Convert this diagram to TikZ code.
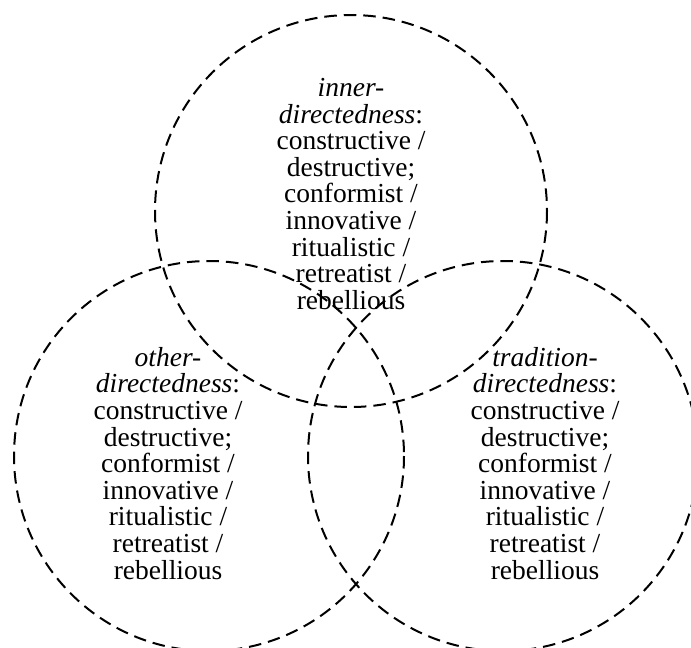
\documentclass[tikz,border=0pt]{standalone}
\usepackage{fontspec}
\setmainfont{Liberation Serif}
\begin{document}
\begin{tikzpicture}[x=1pt,y=-1pt,
  ring/.style={draw=black, line width=2pt, dash pattern=on 12.5pt off 7pt},
  label/.style={align=center, anchor=north, inner sep=0pt,
    font=\fontsize{27.5}{26.6}\selectfont}]
\useasboundingbox (0,0) rectangle (691,648);
\begin{scope}
\clip (0,0) rectangle (691,648);
\draw[ring] (351,211) circle (196);
\draw[ring] (209,456) circle (195);
\draw[ring] (503,456) circle (195);
\end{scope}
\node[label] (inner) at (351,78) {\textit{inner-}\\\textit{directedness}:\\constructive /\\destructive;\\conformist /\\innovative /\\ritualistic /\\retreatist /\\rebellious};
\node[label] (other) at (168,347) {\textit{other-}\\\textit{directedness}:\\constructive /\\destructive;\\conformist /\\innovative /\\ritualistic /\\retreatist /\\rebellious};
\node[label] (trad) at (545,347) {\textit{tradition-}\\\textit{directedness}:\\constructive /\\destructive;\\conformist /\\innovative /\\ritualistic /\\retreatist /\\rebellious};
\end{tikzpicture}
\end{document}
